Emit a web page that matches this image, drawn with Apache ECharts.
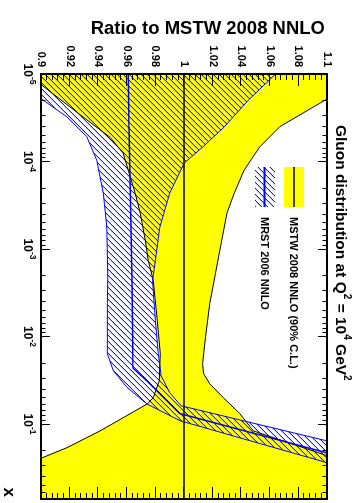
<!DOCTYPE html>
<html><head><meta charset="utf-8">
<script src="https://cdn.jsdelivr.net/npm/echarts@6/dist/echarts.min.js"></script>
<style>
html,body{margin:0;padding:0;background:#fff;overflow:hidden;}
#wrap{position:absolute;left:0;top:0;width:361px;height:503px;overflow:hidden;background:#fff;}
#chart{position:absolute;left:0;top:0;width:503px;height:361px;transform-origin:0 0;transform:translate(361px,0) rotate(90deg);}
</style></head><body><div id="wrap"><div id="chart"></div></div>
<script>
// ---- axis ranges and ticks ----
const X_MIN = 1e-5, X_MAX = 0.72;
const R_MIN = 0.9, R_MAX = 1.1, R_STEP = 0.02;
const xMajorTicks = [1e-5, 1e-4, 1e-3, 1e-2, 1e-1];
const xMinorMultipliers = [2, 3, 4, 5, 6, 7, 8, 9];
const xMinorTicks = [];
xMajorTicks.forEach(d => xMinorMultipliers.forEach(m => { if (d * m <= X_MAX) xMinorTicks.push(+(d * m).toPrecision(3)); }));

// ---- MSTW 2008 NNLO band (ratio to itself), [x, ratio] ----
const mstwUpper = [[1e-5,1.14],[1.93e-5,1.100],[4.0e-5,1.067],[6.8e-5,1.053],[1.26e-4,1.042],[2.33e-4,1.035],[3.9e-4,1.030],[1.9e-3,1.022],[4.2e-3,1.018],[1.03e-2,1.015],[2.04e-2,1.013],[2.66e-2,1.0137],[3.47e-2,1.018],[5.0e-2,1.0275],[7.6e-2,1.039],[0.12,1.0485],[0.23,1.1],[0.72,1.3]];
const mstwLower = [[1e-5,0.888],[1.34e-5,0.9005],[3.1e-5,0.9294],[5.3e-5,0.9483],[8.0e-5,0.9574],[1.26e-4,0.961],[2.3e-4,0.9658],[3.9e-4,0.9694],[7.9e-4,0.9729],[1.35e-3,0.975],[2.3e-3,0.9785],[6.6e-3,0.9813],[1.57e-2,0.9834],[3.2e-2,0.9827],[5.0e-2,0.9785],[5.9e-2,0.9743],[0.12,0.9413],[0.187,0.918],[0.244,0.9007],[0.72,0.75]];
const mstwCentral = [[1e-5,1.0],[0.72,1.0]];

// ---- MRST 2006 NNLO band, [x, ratio] ----
const mrstUpper = [[1e-5,1.064],[1.99e-5,1.045],[4.05e-5,1.028],[6.85e-5,1.013],[1.05e-4,1.0],[2.3e-4,0.990],[5.7e-4,0.983],[1.35e-3,0.980],[2.3e-3,0.978],[6.6e-3,0.980],[1.57e-2,0.982],[2.8e-2,0.984],[4.4e-2,0.990],[6.2e-2,0.998],[0.156,1.10],[0.3,1.3]];
const mrstCentral = [[1e-5,0.961],[4e-5,0.9615],[2.3e-3,0.9637],[2.3e-2,0.9644],[3.2e-2,0.974],[7.6e-2,0.997],[0.214,1.1],[0.4,1.3]];
const mrstLower = [[1e-5,0.87],[1.9e-5,0.8998],[3.08e-5,0.918],[5.2e-5,0.932],[9.7e-5,0.939],[2.33e-4,0.9436],[5.6e-4,0.946],[2.1e-3,0.9467],[4.2e-3,0.9464],[1.58e-2,0.9464],[2.46e-2,0.9506],[3.8e-2,0.960],[5.9e-2,0.974],[9.2e-2,0.9974],[0.278,1.1003],[0.5,1.3]];

// ---- texts ----
const titleText = '{t|Gluon distribution at Q}{s|2}{t| = 10}{s|4}{t| GeV}{s|2}';
const yTitle = 'Ratio to MSTW 2008 NNLO';
const xTitle = 'x';
const legendTexts = ['MSTW 2008 NNLO (90% C.L.)', 'MRST 2006 NNLO'];

const F = "'Liberation Sans', Arial, Helvetica, sans-serif";
const YELLOW = '#ffff00', BLUE = '#0000ff';

function makeHatch() {
  const n = 6;
  const c = document.createElement('canvas');
  c.width = n; c.height = n;
  const g = c.getContext('2d');
  for (let i = 0; i < n; i++) {
    g.fillStyle = 'rgba(20,20,255,1)';
    g.fillRect(i, n - 1 - i, 1, 1);
    g.fillStyle = 'rgba(60,60,255,0.3)';
    g.fillRect((i + 1) % n, n - 1 - i, 1, 1);
  }
  return c;
}
const hatch = { image: makeHatch(), repeat: 'repeat' };

function band(upper, lower, fill, z) {
  return {
    type: 'custom', coordinateSystem: 'cartesian2d', xAxisIndex: 0, yAxisIndex: 0,
    clip: true, silent: true, z: z, data: [[1e-3, 1]],
    renderItem: function (params, api) {
      const pts = upper.map(p => api.coord(p)).concat(lower.slice().reverse().map(p => api.coord(p)));
      return { type: 'polygon', shape: { points: pts }, style: { fill: fill, stroke: null } };
    }
  };
}
function curve(data, color, width, z) {
  return { type: 'line', data: data, showSymbol: false, symbol: 'none', clip: true, silent: true, z: z,
    lineStyle: { color: color, width: width } };
}

function logLabel(v) {
  const l = Math.log10(v), e = Math.round(l);
  if (Math.abs(l - e) > 1e-6) return '';
  return '{b|10}{s|' + e + '}';
}

function xAxisDef(pos, ticks, len, withLine, withLabel) {
  return {
    type: 'log', logBase: 10, min: X_MIN, max: X_MAX, position: pos, gridIndex: 0, z: 10,
    axisLine: { show: withLine, onZero: false, lineStyle: { color: '#000', width: 2 } },
    axisTick: { show: true, inside: true, length: len, customValues: ticks, lineStyle: { color: '#000', width: 1 } },
    minorTick: { show: false }, splitLine: { show: false }, minorSplitLine: { show: false },
    axisLabel: withLabel ? {
      show: true, margin: 4, formatter: logLabel, customValues: xMajorTicks,
      rich: {
        b: { fontSize: 12, fontWeight: 'bold', fontFamily: F, color: '#000', lineHeight: 16, verticalAlign: 'bottom' },
        s: { fontSize: 8.5, fontWeight: 'bold', fontFamily: F, color: '#000', lineHeight: 16, verticalAlign: 'top' }
      }
    } : { show: false }
  };
}
function yAxisDef(pos, withLabel) {
  return {
    type: 'value', min: R_MIN, max: R_MAX, interval: R_STEP, position: pos, z: 10,
    axisLine: { show: true, onZero: false, lineStyle: { color: '#000', width: 2 } },
    axisTick: { show: true, inside: true, length: 12, lineStyle: { color: '#000', width: 1 } },
    minorTick: { show: true, splitNumber: 5, length: 6, lineStyle: { color: '#000', width: 1 } },
    splitLine: { show: false }, minorSplitLine: { show: false },
    axisLabel: withLabel ? { show: true, margin: 7, color: '#000', fontSize: 11, fontWeight: 'bold', fontFamily: F } : { show: false }
  };
}

const chart = echarts.init(document.getElementById('chart'), null, { renderer: 'canvas', width: 503, height: 361 });
chart.setOption({
  animation: false,
  backgroundColor: '#fff',
  grid: { left: 74, right: 4, top: 34, bottom: 41, containLabel: false, outerBoundsMode: 'none' },
  xAxis: [
    xAxisDef('bottom', xMajorTicks, 9, true, true),
    xAxisDef('bottom', xMinorTicks, 4.5, false, false),
    xAxisDef('top', xMajorTicks, 9, true, false),
    xAxisDef('top', xMinorTicks, 4.5, false, false)
  ],
  yAxis: [yAxisDef('left', true), yAxisDef('right', false)],
  series: [
    band(mstwUpper, mstwLower, YELLOW, 1),
    band(mrstUpper, mrstLower, hatch, 2),
    curve(mstwUpper, '#000', 1, 3),
    curve(mstwLower, '#000', 1, 3),
    curve(mstwCentral, '#000', 1.5, 4),
    curve(mrstUpper, BLUE, 1, 4),
    curve(mrstLower, BLUE, 1, 4),
    curve(mrstCentral, BLUE, 1.5, 4)
  ],
  graphic: [
    { type: 'text', x: 125, y: 19, z: 20, style: { text: titleText, fill: '#000', align: 'left', verticalAlign: 'middle',
      rich: { t: { fontSize: 15.5, fontWeight: 'bold', fontFamily: F, lineHeight: 20, verticalAlign: 'bottom' },
              s: { fontSize: 10, fontWeight: 'bold', fontFamily: F, lineHeight: 20, verticalAlign: 'top' } } } },
    { type: 'text', x: 29, y: 36, rotation: Math.PI / 2, z: 20,
      style: { text: yTitle, fill: '#000', align: 'right', verticalAlign: 'middle', fontSize: 18.5, fontWeight: 'bold', fontFamily: F } },
    { type: 'text', x: 497, y: 352, z: 20,
      style: { text: xTitle, fill: '#000', align: 'right', verticalAlign: 'middle', fontSize: 17, fontWeight: 'bold', fontFamily: F } },
    { type: 'rect', z: 20, shape: { x: 167, y: 57, width: 40, height: 20 }, style: { fill: YELLOW } },
    { type: 'line', z: 21, shape: { x1: 167, y1: 67, x2: 207, y2: 67 }, style: { stroke: '#000', lineWidth: 1.5 } },
    { type: 'rect', z: 20, shape: { x: 167, y: 86, width: 40, height: 20 }, style: { fill: hatch } },
    { type: 'line', z: 21, shape: { x1: 167, y1: 96.5, x2: 207, y2: 96.5 }, style: { stroke: BLUE, lineWidth: 2 } },
    { type: 'text', x: 217, y: 67.5, z: 20, style: { text: legendTexts[0], fill: '#000', align: 'left', verticalAlign: 'middle', fontSize: 11, fontWeight: 'bold', fontFamily: F } },
    { type: 'text', x: 217, y: 96.5, z: 20, style: { text: legendTexts[1], fill: '#000', align: 'left', verticalAlign: 'middle', fontSize: 11, fontWeight: 'bold', fontFamily: F } }
  ]
});
</script>
</body></html>
